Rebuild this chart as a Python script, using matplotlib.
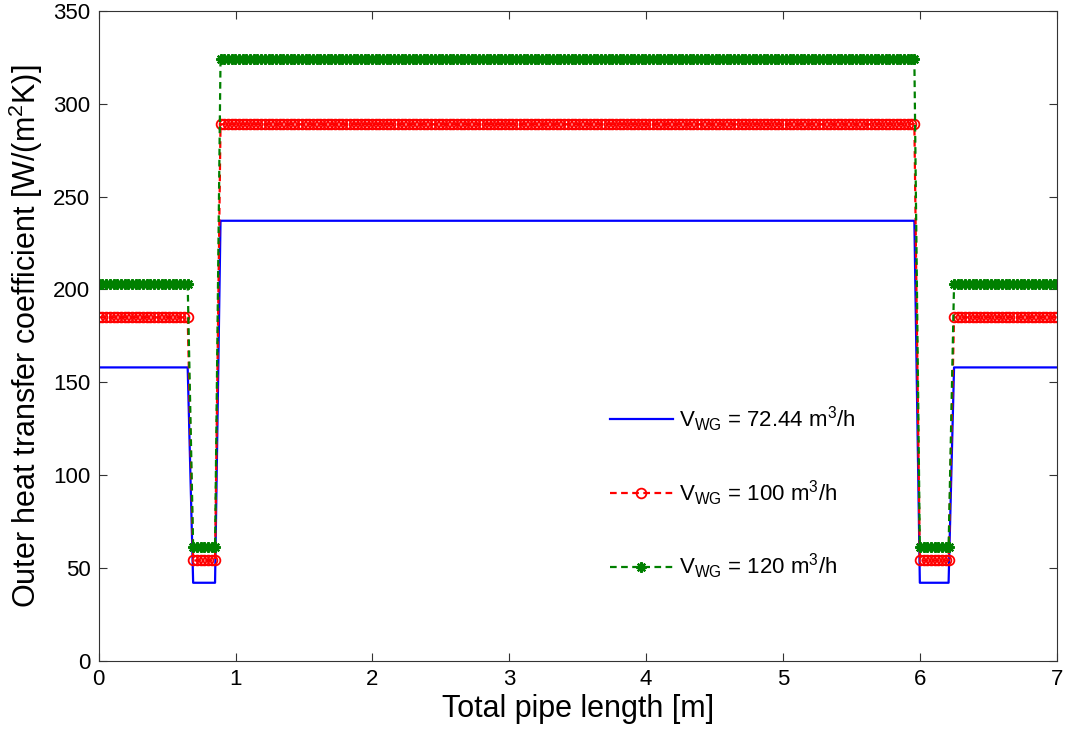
import numpy as np
import matplotlib
matplotlib.use('Agg')
import matplotlib.pyplot as plt

plt.rcParams['font.family'] = ['Liberation Sans', 'DejaVu Sans']
plt.rcParams['mathtext.fontset'] = 'custom'
plt.rcParams['mathtext.rm'] = 'Liberation Sans'
plt.rcParams['mathtext.it'] = 'Liberation Sans:italic'
plt.rcParams['mathtext.bf'] = 'Liberation Sans:bold'

# pipe sections with constant coefficient [m]
sec_start = [0.0, 0.69, 0.89, 6.00, 6.25]
sec_end = [0.65, 0.85, 5.96, 6.21, 7.0]

# outer heat transfer coefficient in each section [W/(m2K)]
alpha_72 = [158, 42, 237, 42, 158]
alpha_100 = [185, 54, 289, 54, 185]
alpha_120 = [203, 61, 324, 61, 203]

labels = [r'V$_{\rm WG}$ = 72.44 m$^3$/h',
          r'V$_{\rm WG}$ = 100 m$^3$/h',
          r'V$_{\rm WG}$ = 120 m$^3$/h']

dx = 0.027  # spacing of the calculation points


def profile(levels):
    xs, ys = [], []
    for a, b, h in zip(sec_start, sec_end, levels):
        pts = list(np.arange(a, b - dx / 2, dx)) + [b]
        xs += pts
        ys += [h] * len(pts)
    return xs, ys


fig = plt.figure(figsize=(10.65, 7.33), dpi=100)
ax = fig.add_axes([0.0927, 0.0986, 0.8995, 0.8864])

x, y = profile(alpha_72)
ax.plot(x, y, '-', color='#0000ff', lw=1.6, label=labels[0])

x, y = profile(alpha_100)
ax.plot(x, y, color='#ff0000', lw=1.6, ls=(0, (3, 2)), marker='o',
        ms=7, mfc='none', mec='#ff0000', mew=1.3, label=labels[1])

x, y = profile(alpha_120)
ax.plot(x, y, color='#008000', lw=1.6, ls=(0, (3, 2)), marker=(8, 2, 0),
        ms=7.5, mec='#008000', mew=1.6, label=labels[2])

ax.set_xlim(0, 7)
ax.set_ylim(0, 350)
ax.set_xticks(range(0, 8))
ax.set_yticks(range(0, 351, 50))
ax.tick_params(direction='in', top=True, right=True, length=6, width=0.8,
               labelsize=16, pad=6, color='#333333')
for s in ax.spines.values():
    s.set_color('#333333')
    s.set_linewidth(0.8)

ax.set_xlabel('Total pipe length [m]', fontsize=22, labelpad=3)
ax.set_ylabel(r'Outer heat transfer coefficient [W/(m$^2$K)]', fontsize=22, labelpad=6)

ax.legend(loc='upper left', bbox_to_anchor=(0.534, 0.395), frameon=False,
          fontsize=16, handlelength=2.8, handletextpad=0.3, labelspacing=2.0,
          borderpad=0, borderaxespad=0, numpoints=1)

fig.savefig('out.png', dpi=100)
